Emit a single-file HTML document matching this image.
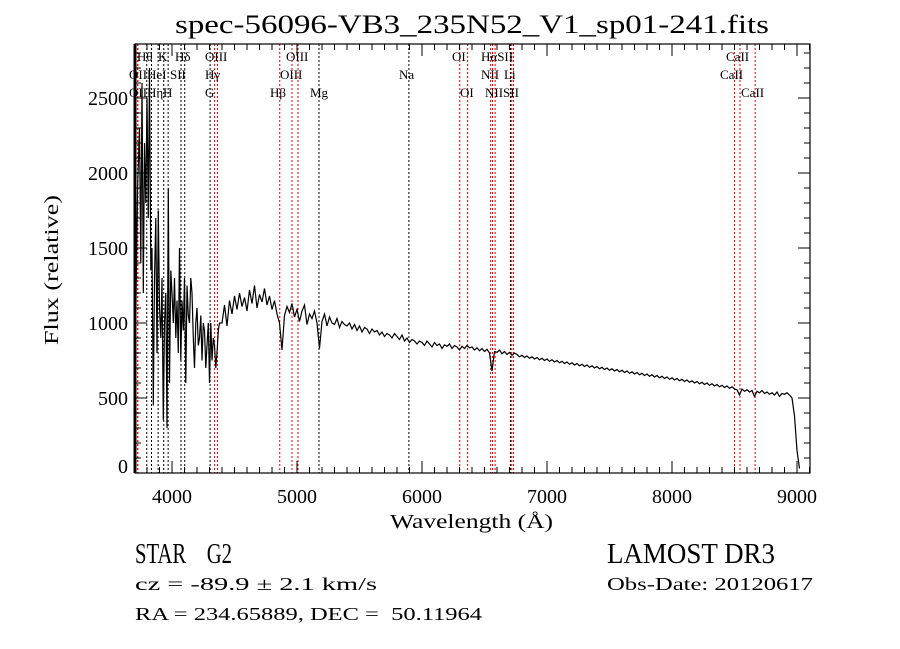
<!DOCTYPE html>
<html><head><meta charset="utf-8"><style>
body{margin:0;background:#fff;}
svg{display:block;}
text{font-family:"Liberation Serif",serif;fill:#000;white-space:pre;}
</style></head><body>
<svg id="chart" width="900" height="649" viewBox="0 0 900 649" xmlns="http://www.w3.org/2000/svg" xml:space="preserve">
<rect width="900" height="649" fill="#fff"/>
<text x="175" y="33" font-size="26" textLength="594" lengthAdjust="spacingAndGlyphs">spec-56096-VB3_235N52_V1_sp01-241.fits</text>
<g id="lines"></g>
<g id="labels" font-size="13"></g>
<g id="axes"></g>
<path id="spec" fill="none" stroke="#000" stroke-width="1.2"/>
<text x="390" y="528" font-size="20" textLength="163" lengthAdjust="spacingAndGlyphs">Wavelength (Å)</text>
<text transform="translate(58,345) rotate(-90)" font-size="20" textLength="150" lengthAdjust="spacingAndGlyphs">Flux (relative)</text>
<text x="135" y="563" font-size="28" textLength="97" lengthAdjust="spacingAndGlyphs">STAR    G2</text>
<text x="135" y="590" font-size="18" textLength="242" lengthAdjust="spacingAndGlyphs">cz = -89.9 ± 2.1 km/s</text>
<text x="135" y="620" font-size="18" textLength="347" lengthAdjust="spacingAndGlyphs">RA = 234.65889, DEC =  50.11964</text>
<text x="607" y="563" font-size="28" textLength="168" lengthAdjust="spacingAndGlyphs">LAMOST DR3</text>
<text x="607" y="590" font-size="18" textLength="206" lengthAdjust="spacingAndGlyphs">Obs-Date: 20120617</text>
</svg>
<script>
const waveBlue=[3705,3710,3725,3740,3750,3760,3770,3780,3790,3800,3810,3820,3830,3840,3850,3860,3870,3880,3890,3900,3910,3920,3930,3940,3950,3960,3970,3980,3990,4000,4010,4020,4030,4040,4050,4060,4070,4080,4090,4100,4110,4120,4130,4140,4150,4160,4170,4180,4190,4200,4210,4220,4230,4240,4250,4260,4270,4280,4290,4300,4310,4320,4330,4340,4350,4360,4370,4380];
const fluxBlue=[50,1050,1900,2300,1400,2600,1200,2200,1800,2500,1700,2700,1350,1500,450,1300,1700,800,1750,1100,900,1300,350,1000,1200,300,1900,600,1350,1200,1000,1300,900,1150,800,1500,750,1150,950,1300,600,1250,1050,1000,1300,1200,900,700,1000,1100,850,900,1050,750,1000,950,700,850,1000,600,1000,750,900,850,700,800,950,1000];
const redStart=4400;
const fluxRed=[1000,1120,980,1150,1060,1180,1090,1200,1110,1170,
1080,1220,1130,1250,1100,1190,1140,1230,1120,1180,
1090,1150,1060,1000,820,1050,1110,1070,1130,1040,
1090,1010,1080,1120,990,1060,1030,1080,1000,830,
1010,1060,980,1040,1000,990,1030,970,1010,990,
980,1000,960,990,950,980,940,970,960,930,
960,940,950,920,940,910,930,920,900,930,
910,890,920,880,900,870,890,880,860,880,
870,850,880,860,840,870,850,860,830,855,
845,860,830,850,840,820,845,830,850,835,
840,820,835,815,830,810,825,800,680,810,
805,820,795,810,790,805,785,800,790,775,
785,770,780,765,775,760,770,755,765,750,
760,745,755,740,750,735,745,730,740,725,
735,720,730,715,725,710,720,705,715,700,
710,695,705,690,700,685,695,680,690,675,
685,670,680,665,675,660,670,655,665,650,
660,645,655,640,650,635,645,630,640,625,
635,620,630,615,625,610,620,605,615,600,
610,595,605,590,600,585,595,580,590,575,
585,570,580,565,575,560,555,520,560,545,
555,540,550,510,545,535,550,530,540,525,
535,520,540,510,530,525,535,520,500,380,
150,30];
const lineWaves=[3725,3727,3798,3836,3889,3934,3969,4072,4102,4305,4341,4364,4862,4960,5008,5176,5895,6302,6365,6549,6564,6585,6708,6718,6732,8500,8544,8665];
const lineColors=["r","r","k","k","k","k","k","k","k","k","r","r","r","r","r","k","k","r","r","r","r","r","k","r","r","r","r","r"];
const xTicks=[4000,5000,6000,7000,8000,9000];
const yTicks=[0,500,1000,1500,2000,2500];
const labelTexts=["Hθ","K","Hδ","OIII","OIII","OI","HαSII","CaII","OII","HeI","SII","Hγ","OIII","Na","NII","Li","CaII","OII","Hη","H","G","Hβ","Mg","OI","NIISII","CaII"];
const labelRows=[0,0,0,0,0,0,0,0,1,1,1,1,1,1,1,1,1,2,2,2,2,2,2,2,2,2];
const labelX=[137,158,175,205,286,452,481,726,129,147,170,205,280,399,481,504,720,129,147,163,205,270,310,460,485,741];

const wave=waveBlue.slice();const flux=fluxBlue.slice();
fluxRed.forEach((f,i)=>{wave.push(redStart+i*20);flux.push(f);});

const L=135,R=810,T=44,B=473;
const xs=w=>172+(w-4000)*0.125;
const ys=f=>B-f*0.15;
const NS="http://www.w3.org/2000/svg";
function mk(tag,parent){const e=document.createElementNS(NS,tag);parent.appendChild(e);return e;}

const lg=document.getElementById('lines');
lineWaves.forEach((w,i)=>{const l=mk('line',lg);


const x=xs(w);l.setAttribute('x1',x);l.setAttribute('x2',x);l.setAttribute('y1',T);l.setAttribute('y2',B);
l.setAttribute('stroke',lineColors[i]==='r'?'#d00':'#000');l.setAttribute('stroke-width','1');l.setAttribute('stroke-dasharray','2,2');});

const lbg=document.getElementById('labels');
labelTexts.forEach((t,i)=>{const e=mk('text',lbg);


e.setAttribute('x',labelX[i]);e.setAttribute('y',61+labelRows[i]*18);e.textContent=t;});

const ax=document.getElementById('axes');
const fr=mk('rect',ax);


fr.setAttribute('x',L);fr.setAttribute('y',T);fr.setAttribute('width',R-L);fr.setAttribute('height',B-T);fr.setAttribute('fill','none');fr.setAttribute('stroke','#000');fr.setAttribute('stroke-width','1.2');
const lb=mk('line',ax);lb.setAttribute('x1',L);lb.setAttribute('x2',L);lb.setAttribute('y1',T);lb.setAttribute('y2',B);lb.setAttribute('stroke','#000');lb.setAttribute('stroke-width','3');
for(let w=3800;w<=9100;w+=100){const x=xs(w);const len=(w%1000===0)?12:6;
[[B,B-len],[T,T+len]].forEach(p=>{const t=mk('line',ax);


t.setAttribute('x1',x);t.setAttribute('x2',x);t.setAttribute('y1',p[0]);t.setAttribute('y2',p[1]);t.setAttribute('stroke','#000');});}
xTicks.forEach(w=>{const t=mk('text',ax);


t.setAttribute('x',xs(w));t.setAttribute('y',503);t.setAttribute('text-anchor','middle');t.setAttribute('font-size','20');t.setAttribute('font-family','Liberation Sans, sans-serif');t.textContent=w;});
for(let f=0;f<=2800;f+=100){const y=ys(f);const len=(f%500===0)?12:6;
[[L,L+len],[R,R-len]].forEach(p=>{const t=mk('line',ax);


t.setAttribute('x1',p[0]);t.setAttribute('x2',p[1]);t.setAttribute('y1',y);t.setAttribute('y2',y);t.setAttribute('stroke','#000');});}
yTicks.forEach(f=>{const t=mk('text',ax);


t.setAttribute('x',128);t.setAttribute('y',Math.min(ys(f)+7,473));t.setAttribute('text-anchor','end');t.setAttribute('font-size','20');t.setAttribute('font-family','Liberation Sans, sans-serif');t.textContent=f;});

let d='';wave.forEach((w,i)=>{d+=(i?'L':'M')+xs(w).toFixed(1)+','+ys(flux[i]).toFixed(1);});
document.getElementById('spec').setAttribute('d',d);
</script>
</body></html>
